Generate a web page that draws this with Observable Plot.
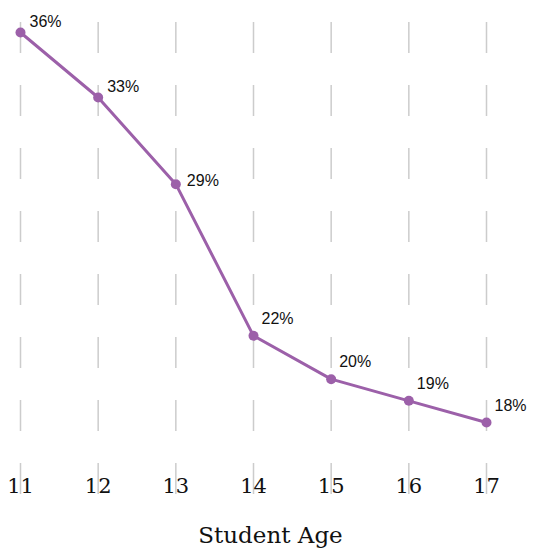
<!DOCTYPE html>
<html>
<head>
<meta charset="utf-8">
<script src="https://cdn.jsdelivr.net/npm/d3@7"></script>
<script src="https://cdn.jsdelivr.net/npm/@observablehq/plot@0.6"></script>
<style>
  html, body { margin: 0; padding: 0; background: #fff; }
</style>
</head>
<body>
<div id="chart"></div>
<script>
const ages = [11, 12, 13, 14, 15, 16, 17];
const percents = [36, 33, 29, 22, 20, 19, 18];
const labels = ["36%", "33%", "29%", "22%", "20%", "19%", "18%"];
const xLabel = "Student Age";

const data = ages.map((a, i) => ({age: a, pct: percents[i], label: labels[i]}));
const labelFont = {textAnchor: "start", fontSize: 16, fontFamily: "'Liberation Sans', Arial, sans-serif", fill: "#111"};

const chart = Plot.plot({
  width: 533,
  height: 548,
  marginTop: 22,
  marginBottom: 53,
  marginLeft: 20,
  marginRight: 47,
  style: {fontFamily: "'DejaVu Serif', serif", fontSize: "21px", color: "#111", background: "#fff"},
  x: {domain: [11, 17], ticks: ages, tickFormat: d => String(d), label: null},
  y: {domain: [18, 36], range: [422, 32], axis: null},
  marks: [
    Plot.ruleX(ages, {stroke: "#cccccc", strokeWidth: 1.5, strokeDasharray: "31,32"}),
    Plot.axisX({ticks: ages, tickSize: 0, tickPadding: 0, dy: -17, fontSize: 21, tickFormat: d => String(d), label: null}),
    Plot.line(data, {x: "age", y: "pct", stroke: "#9c60a9", strokeWidth: 3}),
    Plot.dot(data, {x: "age", y: "pct", r: 5, fill: "#9c60a9"}),
    Plot.text(data, {filter: d => d.age <= 12, x: "age", y: "pct", text: "label", dx: 9, dy: -11, ...labelFont}),
    Plot.text(data, {filter: d => d.age === 13, x: "age", y: "pct", text: "label", dx: 11, dy: -3, ...labelFont}),
    Plot.text(data, {filter: d => d.age >= 14, x: "age", y: "pct", text: "label", dx: 8, dy: -17, ...labelFont}),
    Plot.text([xLabel], {frameAnchor: "bottom", dx: 17, dy: 47, text: d => d, fontSize: 23, fill: "#111"})
  ]
});
document.getElementById("chart").appendChild(chart);
</script>
</body>
</html>
